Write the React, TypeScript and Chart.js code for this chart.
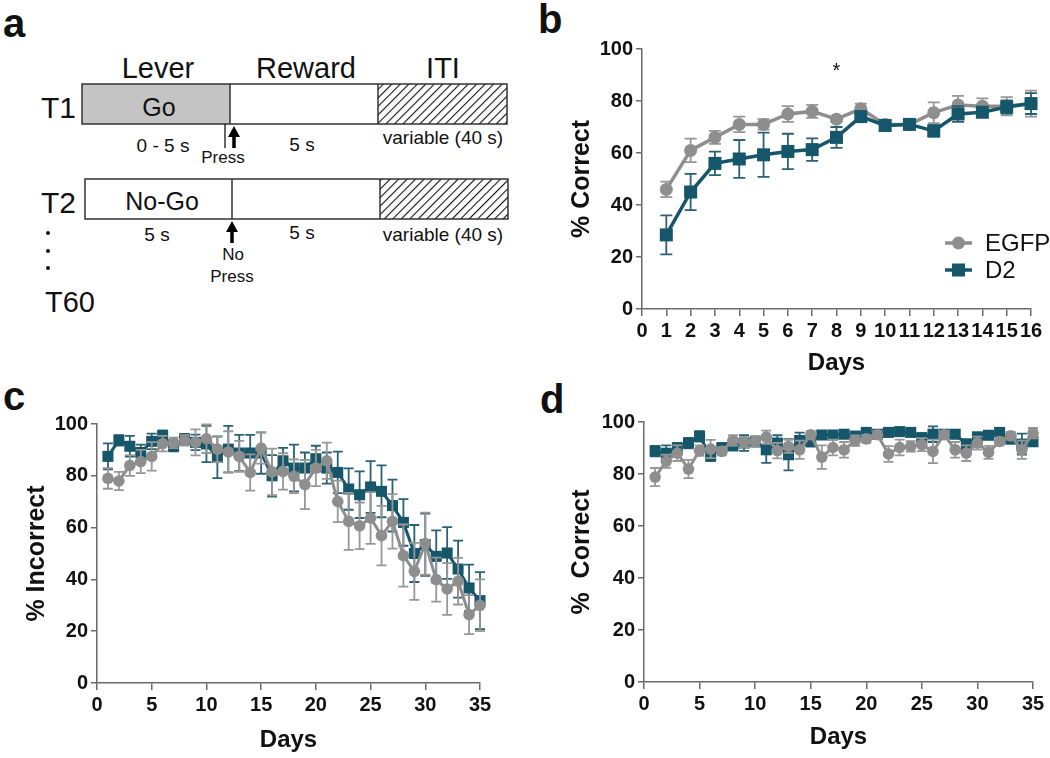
import React, { useEffect, useRef } from 'react';
import { Chart, registerables } from 'chart.js';
Chart.register(...registerables);

const TEAL = '#16566a';
const GRAY = '#8e8e8e';
const AXIS = '#6a6a6a';
const TXT = '#111111';
const FONT = "'Liberation Sans', Arial, Helvetica, sans-serif";

// ---------- Panel b ----------
const daysB = [1, 2, 3, 4, 5, 6, 7, 8, 9, 10, 11, 12, 13, 14, 15, 16];
const egfpB = [46, 61, 66, 71, 71, 75, 76, 73, 77, 71, 71, 75.5, 78.5, 78, 78, 79];
const egfpBErr = [3, 4.5, 2.5, 3, 2, 3, 2.5, 1, 2, 1.5, 1.5, 4, 3.5, 3, 3.5, 5];
const d2B = [28.5, 45, 56, 57.7, 59.3, 60.6, 61.3, 66, 74, 70.6, 71, 68.5, 75, 75.7, 77.7, 79];
const d2BErr = [7.5, 7, 4.5, 7.3, 8.5, 6.8, 4.3, 4, 1.5, 2, 1.5, 2.2, 3, 2, 2.5, 4];
const xTicksB = [0, 1, 2, 3, 4, 5, 6, 7, 8, 9, 10, 11, 12, 13, 14, 15, 16];
const yTicks = [0, 20, 40, 60, 80, 100];

// ---------- Panel c ----------
const days35 = [1, 2, 3, 4, 5, 6, 7, 8, 9, 10, 11, 12, 13, 14, 15, 16, 17, 18, 19, 20, 21, 22, 23, 24, 25, 26, 27, 28, 29, 30, 31, 32, 33, 34, 35];
const egfpC = [79, 78, 84, 85.5, 87.5, 92.4, 92.7, 93.7, 92.9, 94.3, 90.3, 89.2, 87.5, 81.3, 90.7, 81.5, 81.7, 79.8, 76.6, 83, 85.8, 70.1, 62.4, 60.7, 63.7, 56.9, 62.4, 49.2, 43.1, 53.8, 39.9, 36.3, 39.3, 26.4, 30];
const egfpCErr = [4, 3.5, 4, 4.5, 5.5, 3, 2, 2, 5, 5.5, 5, 8, 6, 7, 6, 9, 7, 6.5, 9.5, 7, 7, 8, 11, 9, 10, 11.5, 10.5, 12, 11, 12, 8.5, 10, 9, 7.5, 10];
const d2C = [87.5, 93.7, 91.4, 89, 93.3, 95.5, 91.4, 94.2, 92.9, 92.3, 87.1, 90.3, 88.8, 88.8, 88.8, 80, 85.8, 83, 83, 86.6, 83, 81.3, 74.9, 72.7, 75.7, 74, 68.5, 62, 50, 53.4, 48.9, 50.2, 44, 36.7, 31.8];
const d2CErr = [5, 2, 4, 3, 3, 2, 2, 2, 3, 7, 8, 9, 7, 7, 8, 8, 5, 9, 6, 5, 6, 8, 8, 9, 10, 10, 10, 9, 11, 12, 10, 10, 11, 9, 11];
const xTicks35 = [0, 5, 10, 15, 20, 25, 30, 35];

// ---------- Panel d ----------
const egfpD = [78.8, 84.9, 88, 81.9, 89, 89.6, 88.7, 92.9, 92.2, 92.5, 94.2, 89, 90.6, 89.3, 95.1, 86.5, 90.2, 89.3, 92.8, 93.5, 95.1, 87.7, 90.2, 90.6, 91.3, 88.7, 95.1, 89.3, 88, 91.9, 88.3, 92.5, 94.7, 89.3, 95.7];
const egfpDErr = [3.5, 2.5, 3, 3.5, 2, 3.5, 1.5, 2, 2, 2, 2.5, 3, 2.5, 3.5, 1.5, 4.5, 3, 3, 2, 1.5, 1.5, 3, 3, 2, 2.5, 4.5, 1.5, 3, 3, 2.5, 2.5, 1.5, 1.5, 3.5, 2];
const d2D = [88.8, 88, 90, 91.9, 94.5, 87, 90, 91, 91.9, 92.5, 89.3, 91.9, 87.4, 92.9, 92.5, 95, 95, 95.3, 94.6, 96, 95.3, 96, 96.3, 96, 94, 95.3, 95.3, 95.3, 91.4, 94.3, 94.9, 96, 93.4, 91.5, 92.4];
const d2DErr = [2, 3, 2, 2, 2, 2, 2, 2, 3, 2, 5, 3, 6, 3, 2, 1.5, 1.5, 1.5, 1.5, 1.5, 1.5, 1.5, 1.5, 1.5, 1.5, 3, 1.5, 1.5, 2, 1.5, 1.5, 1.5, 1.5, 4, 1.5];

const errorBars = {
  id: 'errorBars',
  beforeDatasetDraw(chart: any, args: any) {
    const ds: any = chart.data.datasets[args.index];
    const err: number[] = ds.errors;
    if (!err) return;
    const ctx = chart.ctx;
    const xs = chart.scales.x;
    const ys = chart.scales.y;
    ctx.save();
    ctx.strokeStyle = ds.errorColor;
    ctx.lineWidth = ds.errorWidth;
    const cap = ds.capHalf;
    ds.data.forEach((p: any, i: number) => {
      const px = xs.getPixelForValue(p.x);
      const t = ys.getPixelForValue(p.y + err[i]);
      const b = ys.getPixelForValue(p.y - err[i]);
      ctx.beginPath();
      ctx.moveTo(px, t);
      ctx.lineTo(px, b);
      ctx.moveTo(px - cap, t);
      ctx.lineTo(px + cap, t);
      ctx.moveTo(px - cap, b);
      ctx.lineTo(px + cap, b);
      ctx.stroke();
    });
    ctx.restore();
  },
};

const extras = {
  id: 'extras',
  afterDraw(chart: any, _a: any, opts: any) {
    const ctx = chart.ctx;
    if (opts.star) {
      const px = chart.scales.x.getPixelForValue(opts.star.x);
      const py = chart.scales.y.getPixelForValue(opts.star.y);
      ctx.save();
      ctx.fillStyle = TXT;
      ctx.font = `20px ${FONT}`;
      ctx.textAlign = 'center';
      ctx.textBaseline = 'middle';
      ctx.fillText('*', px, py);
      ctx.restore();
    }
    if (opts.legend) {
      const L = opts.legend;
      chart.data.datasets.forEach((ds: any, i: number) => {
        const y = L.y + i * L.gap;
        ctx.save();
        ctx.strokeStyle = ds.borderColor;
        ctx.lineWidth = ds.borderWidth;
        ctx.beginPath();
        ctx.moveTo(L.x0, y);
        ctx.lineTo(L.x1, y);
        ctx.stroke();
        ctx.fillStyle = ds.backgroundColor;
        const cx = (L.x0 + L.x1) / 2;
        if (ds.pointStyle === 'rect') {
          const s = ds.pointRadius * Math.SQRT1_2;
          ctx.fillRect(cx - s, y - s, 2 * s, 2 * s);
        } else {
          ctx.beginPath();
          ctx.arc(cx, y, ds.pointRadius, 0, Math.PI * 2);
          ctx.fill();
        }
        ctx.fillStyle = TXT;
        ctx.font = `24px ${FONT}`;
        ctx.textAlign = 'left';
        ctx.textBaseline = 'middle';
        ctx.fillText(ds.label, L.tx, y + 1);
        ctx.restore();
      });
    }
  },
};

type Spec = {
  days: number[];
  egfp: number[];
  egfpErr: number[];
  d2: number[];
  d2Err: number[];
  xMax: number;
  xTicks: number[];
  yTitle: string;
  padLeft: number;
  padRight: number;
  padTop: number;
  yWidth: number;
  xHeight: number;
  xTitlePad: number;
  d2OnTop: boolean;
  circleR: number;
  rectR: number;
  lineW: number;
  cap: number;
  extras: any;
};

function build(s: Spec): any {
  const tickFont = { family: FONT, size: 20, weight: 'bold' as const };
  return {
    type: 'line',
    data: {
      datasets: [
        {
          label: 'EGFP',
          data: s.days.map((d, i) => ({ x: d, y: s.egfp[i] })),
          errors: s.egfpErr,
          errorColor: '#979797',
          errorWidth: 1.8,
          capHalf: s.cap,
          borderColor: GRAY,
          backgroundColor: GRAY,
          pointBackgroundColor: GRAY,
          pointBorderColor: GRAY,
          pointBorderWidth: 0,
          pointStyle: 'circle',
          pointRadius: s.circleR,
          borderWidth: s.lineW,
          tension: 0,
          clip: false,
          order: s.d2OnTop ? 1 : 0,
        },
        {
          label: 'D2',
          data: s.days.map((d, i) => ({ x: d, y: s.d2[i] })),
          errors: s.d2Err,
          errorColor: '#2b6273',
          errorWidth: 1.8,
          capHalf: s.cap,
          borderColor: TEAL,
          backgroundColor: TEAL,
          pointBackgroundColor: TEAL,
          pointBorderColor: TEAL,
          pointBorderWidth: 0,
          pointStyle: 'rect',
          pointRadius: s.rectR,
          borderWidth: s.lineW,
          tension: 0,
          clip: false,
          order: s.d2OnTop ? 0 : 1,
        },
      ],
    },
    options: {
      responsive: false,
      animation: false,
      events: [],
      devicePixelRatio: 1,
      layout: { padding: { left: s.padLeft, right: s.padRight, top: s.padTop, bottom: 0 } },
      plugins: {
        legend: { display: false },
        tooltip: { enabled: false },
        extras: s.extras,
      },
      scales: {
        x: {
          type: 'linear',
          min: 0,
          max: s.xMax,
          afterBuildTicks: (sc: any) => {
            sc.ticks = s.xTicks.map((v) => ({ value: v }));
          },
          afterFit: (sc: any) => {
            sc.height = s.xHeight;
          },
          ticks: { font: tickFont, color: TXT, padding: 3, autoSkip: false, maxRotation: 0 },
          grid: { drawOnChartArea: false, drawTicks: true, tickLength: 7, color: AXIS, lineWidth: 1.5 },
          border: { color: AXIS, width: 1.5 },
          title: {
            display: true,
            text: 'Days',
            color: TXT,
            font: { family: FONT, size: 24, weight: 'bold' },
            padding: { top: 0, bottom: s.xTitlePad },
          },
        },
        y: {
          type: 'linear',
          min: 0,
          max: 100,
          afterBuildTicks: (sc: any) => {
            sc.ticks = yTicks.map((v) => ({ value: v }));
          },
          afterFit: (sc: any) => {
            sc.width = s.yWidth;
          },
          ticks: { font: tickFont, color: TXT, padding: 3 },
          grid: { drawOnChartArea: false, drawTicks: true, tickLength: 6, color: AXIS, lineWidth: 1.5 },
          border: { color: AXIS, width: 1.5 },
          title: {
            display: true,
            text: s.yTitle,
            color: TXT,
            font: { family: FONT, size: 25, weight: 'bold' },
            padding: { top: 4, bottom: 0 },
          },
        },
      },
    },
    plugins: [errorBars, extras],
  };
}

function ChartPanel({ spec, left, top, width, height }: { spec: Spec; left: number; top: number; width: number; height: number }) {
  const ref = useRef<HTMLCanvasElement | null>(null);
  useEffect(() => {
    if (!ref.current) return;
    const chart = new Chart(ref.current, build(spec));
    return () => chart.destroy();
  }, []);
  return (
    <canvas
      ref={ref}
      width={width}
      height={height}
      style={{ position: 'absolute', left, top, width, height }}
    />
  );
}

const specB: Spec = {
  days: daysB,
  egfp: egfpB,
  egfpErr: egfpBErr,
  d2: d2B,
  d2Err: d2BErr,
  xMax: 16,
  xTicks: xTicksB,
  yTitle: '% Correct',
  padLeft: 33,
  padRight: 19,
  padTop: 49,
  yWidth: 79,
  xHeight: 71,
  xTitlePad: 2,
  d2OnTop: true,
  circleR: 6.5,
  rectR: 9.2,
  lineW: 3.5,
  cap: 6,
  extras: { star: { x: 8, y: 91.5 }, legend: { x0: 415, x1: 442, tx: 455, y: 243, gap: 27 } },
};

const specC: Spec = {
  days: days35,
  egfp: egfpC,
  egfpErr: egfpCErr,
  d2: d2C,
  d2Err: d2CErr,
  xMax: 35,
  xTicks: xTicks35,
  yTitle: '% Incorrect',
  padLeft: 18,
  padRight: 50,
  padTop: 44,
  yWidth: 79,
  xHeight: 75,
  xTitlePad: 3.5,
  d2OnTop: false,
  circleR: 5.8,
  rectR: 7.8,
  lineW: 3,
  cap: 5,
  extras: {},
};

const specD: Spec = {
  days: days35,
  egfp: egfpD,
  egfpErr: egfpDErr,
  d2: d2D,
  d2Err: d2DErr,
  xMax: 35,
  xTicks: xTicks35,
  yTitle: '%  Correct',
  padLeft: 33,
  padRight: 17,
  padTop: 42,
  yWidth: 81,
  xHeight: 76,
  xTitlePad: 6.5,
  d2OnTop: false,
  circleR: 5.8,
  rectR: 7.8,
  lineW: 3,
  cap: 5,
  extras: {},
};

function Arrow({ x, tip, end }: { x: number; tip: number; end: number }) {
  return (
    <g>
      <polygon points={`${x},${tip} ${x - 6},${tip + 11} ${x + 6},${tip + 11}`} fill="#000" />
      <line x1={x} y1={tip + 10} x2={x} y2={end} stroke="#000" strokeWidth={3.5} />
    </g>
  );
}

function PanelA() {
  const f = FONT;
  return (
    <svg width={1050} height={758} style={{ position: 'absolute', left: 0, top: 0 }}>
      <defs>
        <pattern id="hatch" width="6" height="6" patternUnits="userSpaceOnUse" patternTransform="rotate(45)">
          <line x1="0" y1="0" x2="0" y2="6" stroke="#111" strokeWidth="2.2" />
        </pattern>
      </defs>
      <g fontFamily={f} fill="#111">
        <text x={3} y={37} fontSize={40} fontWeight="bold">a</text>
        <text x={538} y={33} fontSize={40} fontWeight="bold">b</text>
        <text x={3} y={410} fontSize={40} fontWeight="bold">c</text>
        <text x={540} y={413} fontSize={40} fontWeight="bold">d</text>

        <text x={158} y={78} fontSize={29} textAnchor="middle">Lever</text>
        <text x={306} y={78} fontSize={29} textAnchor="middle">Reward</text>
        <text x={443} y={78} fontSize={29} textAnchor="middle">ITI</text>
      </g>
      {/* T1 */}
      <rect x={82} y={84} width={148} height={40} fill="#c4c4c4" />
      <rect x={378} y={84} width={129} height={40} fill="url(#hatch)" />
      <rect x={82} y={84} width={425} height={40} fill="none" stroke="#333" strokeWidth={1.5} />
      <line x1={230} y1={84} x2={230} y2={124} stroke="#333" strokeWidth={1.5} />
      <line x1={378} y1={84} x2={378} y2={124} stroke="#333" strokeWidth={1.5} />
      <line x1={225} y1={124} x2={225} y2={148} stroke="#000" strokeWidth={1.2} />
      <Arrow x={234} tip={126} end={148} />
      {/* T2 */}
      <rect x={380} y={179} width={128} height={40} fill="url(#hatch)" />
      <rect x={85} y={179} width={423} height={40} fill="none" stroke="#333" strokeWidth={1.5} />
      <line x1={232} y1={179} x2={232} y2={219} stroke="#333" strokeWidth={1.5} />
      <line x1={380} y1={179} x2={380} y2={219} stroke="#333" strokeWidth={1.5} />
      <Arrow x={232} tip={221} end={243} />
      <g fontFamily={f} fill="#111">
        <text x={76} y={118} fontSize={30} textAnchor="end">T1</text>
        <text x={159} y={116} fontSize={25} textAnchor="middle">Go</text>
        <text x={163} y={152} fontSize={19} textAnchor="middle">0 - 5 s</text>
        <text x={223} y={163} fontSize={17} textAnchor="middle">Press</text>
        <text x={302} y={151} fontSize={19} textAnchor="middle">5 s</text>
        <text x={443} y={144} fontSize={19} textAnchor="middle">variable (40 s)</text>

        <text x={76} y={213} fontSize={30} textAnchor="end">T2</text>
        <text x={162} y={210} fontSize={25} textAnchor="middle">No-Go</text>
        <text x={157} y={241} fontSize={19} textAnchor="middle">5 s</text>
        <text x={233} y={260} fontSize={17} textAnchor="middle">No</text>
        <text x={232} y={282} fontSize={17} textAnchor="middle">Press</text>
        <text x={302} y={239} fontSize={19} textAnchor="middle">5 s</text>
        <text x={443} y={241} fontSize={19} textAnchor="middle">variable (40 s)</text>

        <circle cx={48} cy={233} r={2} />
        <circle cx={48} cy={251} r={2} />
        <circle cx={48} cy={268} r={2} />
        <text x={45} y={312} fontSize={29}>T60</text>
      </g>
    </svg>
  );
}

export default function App() {
  return (
    <div style={{ position: 'absolute', left: 0, top: 0, width: 1050, height: 758, background: '#fff', overflow: 'hidden' }}>
      <PanelA />
      <ChartPanel spec={specB} left={530} top={0} width={520} height={380} />
      <ChartPanel spec={specC} left={0} top={380} width={530} height={378} />
      <ChartPanel spec={specD} left={530} top={380} width={520} height={378} />
    </div>
  );
}
